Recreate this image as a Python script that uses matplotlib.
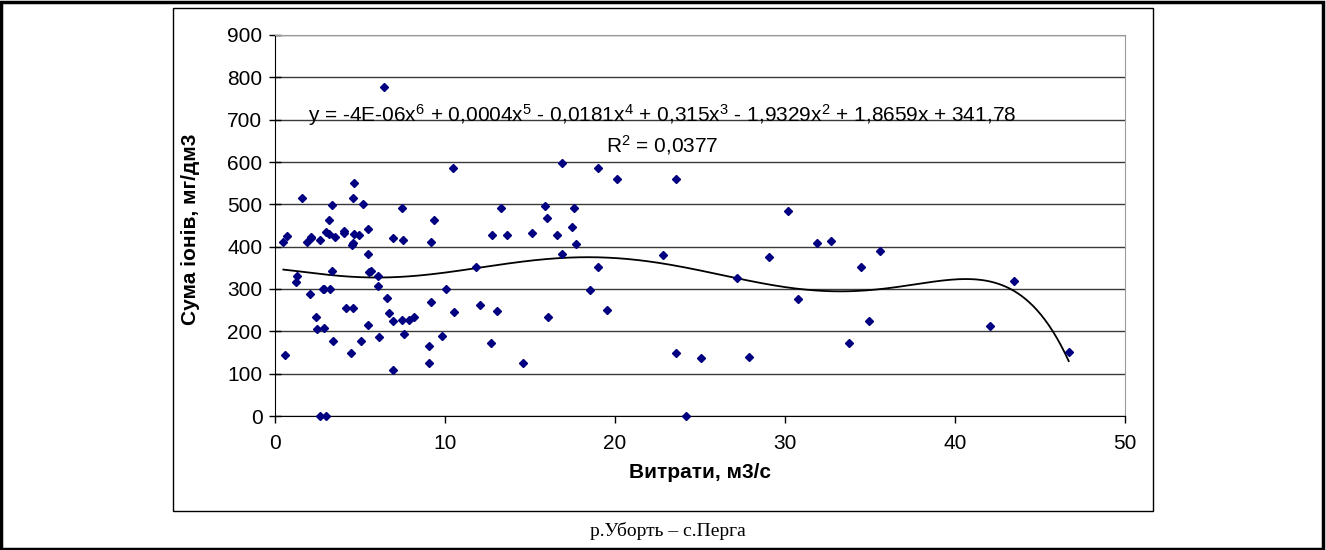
import numpy as np
import matplotlib
matplotlib.use("Agg")
import matplotlib.pyplot as plt
from matplotlib.patches import Rectangle

plt.rcParams['font.family'] = ['Liberation Sans', 'DejaVu Sans']
plt.rcParams['mathtext.fontset'] = 'custom'
plt.rcParams['mathtext.rm'] = 'Liberation Sans'
plt.rcParams['mathtext.it'] = 'Liberation Sans:italic'
plt.rcParams['mathtext.bf'] = 'Liberation Sans:bold'

# Discharge (m3/s)
flow = [6.41, 4.65, 1.59, 4.59, 3.33, 5.16, 7.45, 9.37, 3.20, 5.45,
        4.08, 4.08, 2.98, 3.20, 4.65, 4.92, 3.51, 2.10, 2.14, 0.71,
        6.94, 7.55, 2.65, 1.90, 0.49, 4.57, 4.53, 9.16, 5.45, 5.51,
        5.67, 3.33, 1.31, 1.24, 6.08, 6.08, 2.80, 2.90, 3.24, 2.06,
        10.06, 6.57, 9.16, 4.16, 4.59, 6.69, 2.39, 8.20, 7.86, 7.49,
        6.92, 5.45, 2.86, 2.49, 7.61, 9.84, 5.06, 3.39, 9.04, 6.12,
        4.47, 0.61, 9.04, 6.94, 2.65, 3.02,
        10.45, 16.9, 19.0, 20.1, 13.3, 15.88, 17.59, 15.98, 17.49, 12.75,
        13.67, 15.14, 16.6, 17.7, 16.9, 11.8, 19.0, 18.5, 12.06, 10.55,
        13.08, 19.55, 16.08, 12.7, 14.6,
        23.57, 30.16, 22.8, 29.06, 27.16, 23.57, 25.08, 27.88, 24.18,
        31.9, 32.7, 35.6, 34.47, 30.78, 34.92, 33.78, 42.06, 43.47, 46.69]
# Sum of ions (mg/dm3)
ions = [776, 550, 516, 516, 498, 501, 491, 463, 463, 442,
        438, 433, 435, 431, 431, 428, 422, 424, 421, 426,
        420, 415, 415, 411, 411, 408, 404, 411, 382, 340,
        342, 343, 330, 316, 331, 308, 299, 301, 299, 289,
        301, 279, 270, 255, 255, 244, 233, 233, 227, 227,
        225, 216, 209, 205, 193, 190, 178, 176, 165, 186,
        150, 143, 126, 109, 0, 0,
        585, 598, 585, 561, 492, 497, 491, 467, 446, 428,
        428, 433, 428, 407, 383, 351, 353, 298, 263, 246,
        249, 250, 235, 173, 126,
        559, 484, 381, 376, 325, 150, 137, 139, 0,
        409, 413, 389, 351, 276, 225, 173, 213, 319, 151]

x_ticks = [0, 10, 20, 30, 40, 50]
y_ticks = [0, 100, 200, 300, 400, 500, 600, 700, 800, 900]

W, H = 1326, 550
fig = plt.figure(figsize=(W / 100, H / 100), dpi=100)

L, R, T, B = 275, 1125, 35, 416
ax = fig.add_axes([L / W, 1 - B / H, (R - L) / W, (B - T) / H])

x = np.array(flow)
y = np.array(ions)

ax.plot(x, y, ls='none', marker='D', ms=4.2, color='#000080', clip_on=False, zorder=3)

coef = np.polyfit(x, y, 6)
xs = np.linspace(x.min(), x.max(), 400)
ax.plot(xs, np.polyval(coef, xs), color='black', lw=1.3, zorder=2)

ax.set_xlim(0, 50)
ax.set_ylim(0, 900)
ax.set_xticks(x_ticks)
ax.set_yticks(y_ticks)
ax.yaxis.grid(True, color='#3a3a3a', lw=1)
ax.set_axisbelow(True)
ax.tick_params(axis='y', direction='inout', length=8, width=1, labelsize=15, pad=5)
ax.tick_params(axis='x', direction='out', length=5, width=1, labelsize=15, pad=8)
for s in ['top', 'right']:
    ax.spines[s].set_color('#9a9a9a')
for s in ['left', 'bottom']:
    ax.spines[s].set_color('black')

ax.set_xlabel('Витрати, м3/с', fontsize=15, fontweight='bold')
ax.set_ylabel('Сума іонів, мг/дм3', fontsize=15, fontweight='bold')
ax.xaxis.set_label_coords(0.5, (416 - 463) / 381)
ax.yaxis.set_label_coords((200 - 275) / 850, 0.49)

eq = (r'y = -4E-06x$^{6}$ + 0,0004x$^{5}$ - 0,0181x$^{4}$ + 0,315x$^{3}$'
      r' - 1,9329x$^{2}$ + 1,8659x + 341,78')
ax.text(22.8, 711, eq, fontsize=15, ha='center', va='center', zorder=4)
ax.text(22.8, 640, r'R$^{2}$ = 0,0377', fontsize=15, ha='center', va='center', zorder=4)

# chart frame
fig.patches.append(Rectangle((173 / W, 1 - 511 / H), (1153 - 173) / W, (511 - 8) / H,
                             transform=fig.transFigure, fill=False, ec='black', lw=1))
# outer border
fig.patches.append(Rectangle((0.001, 0.002), 0.997, 0.995, transform=fig.transFigure,
                             fill=False, ec='black', lw=2.5))

fig.text(668 / W, 1 - 531 / H, 'р.Уборть – с.Перга', family='Liberation Serif',
         fontsize=14, ha='center', va='center')

fig.savefig('out.png', dpi=100)
